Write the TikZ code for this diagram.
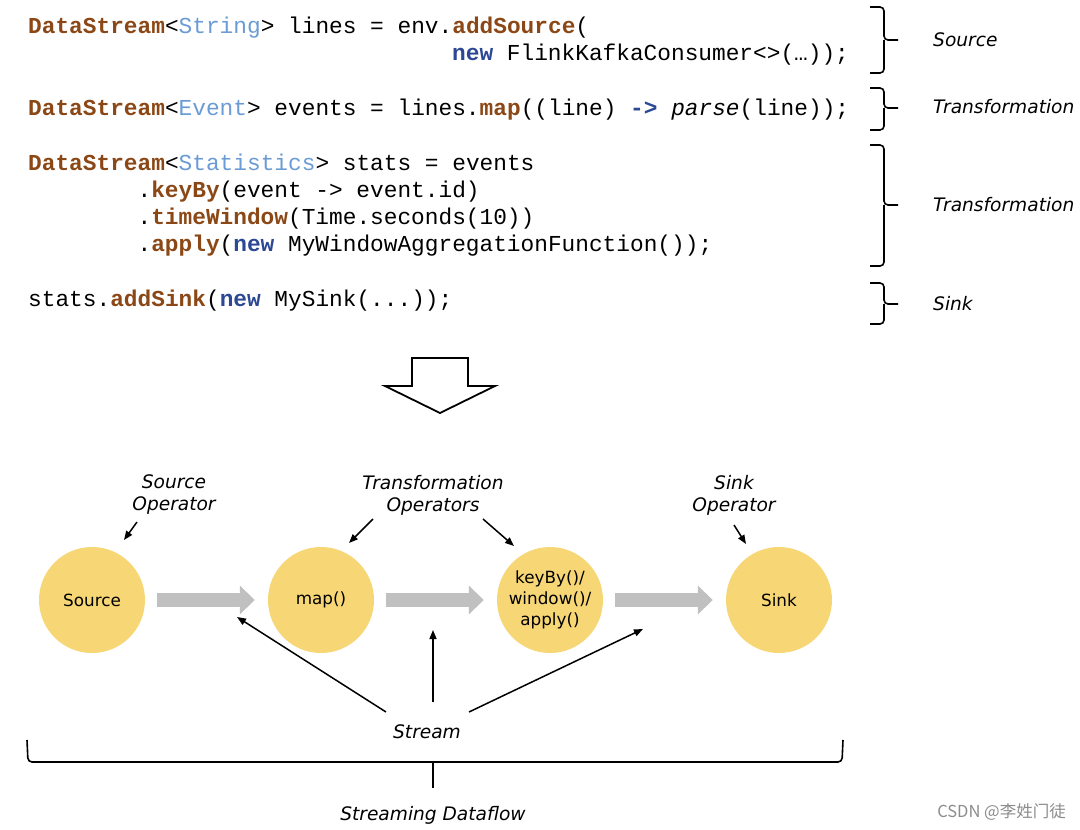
\documentclass[tikz,border=0pt]{standalone}
\usepackage{fontspec}
\setmainfont{DejaVu Sans}
\newfontfamily\codefont{Liberation Mono}
\newfontfamily\cjkfont{Noto Sans CJK SC}
\usetikzlibrary{arrows.meta}
\definecolor{KeyClr}{RGB}{139,72,22}
\definecolor{TypeClr}{RGB}{106,155,212}
\definecolor{NewClr}{RGB}{44,72,148}
\definecolor{OpClr}{RGB}{247,214,118}
\definecolor{FlowClr}{RGB}{192,192,192}
\newcommand{\kw}[1]{{\bfseries\color{KeyClr}#1}}
\newcommand{\ty}[1]{{\color{TypeClr}#1}}
\newcommand{\nw}[1]{{\bfseries\color{NewClr}#1}}

\begin{document}
\begin{tikzpicture}[x=1pt,y=-1pt,
  code/.style={anchor=base west,inner sep=0,font=\codefont\fontsize{22.8}{27}\selectfont},
  note/.style={inner sep=0,align=center,font=\itshape\fontsize{18.6}{22}\selectfont},
  op/.style={circle,fill=OpClr,minimum size=106pt,inner sep=0,align=center,
    font=\fontsize{16.8}{21}\selectfont},
  flow/.style={FlowClr,line width=14pt,shorten <=12pt,shorten >=13pt,
    -{Triangle[length=15pt,width=28pt]}},
  ptr/.style={line width=1.5pt,-{Triangle[length=9pt,width=7pt]}},
  bracket/.style={line width=1.6pt,rounded corners=4pt}]
\useasboundingbox (0,0) rectangle (1080,830);

% program text
\node[code] (c1) at (28,33) {\kw{DataStream}<\ty{String}> lines = env.\kw{addSource}(};
\node[code] (c2) at (452,60) {\nw{new} FlinkKafkaConsumer<>(…));};
\node[code] (c3) at (28,115) {\kw{DataStream}<\ty{Event}> events = lines.\kw{map}((line) \nw{->} \textit{parse}(line));};
\node[code] (c4) at (28,170) {\kw{DataStream}<\ty{Statistics}> stats = events};
\node[code] (c5) at (137.4,197) {.\kw{keyBy}(event -> event.id)};
\node[code] (c6) at (137.4,224) {.\kw{timeWindow}(Time.seconds(10))};
\node[code] (c7) at (137.4,251) {.\kw{apply}(\nw{new} MyWindowAggregationFunction());};
\node[code] (c8) at (28,306) {stats.\kw{addSink}(\nw{new} MySink(...));};

% brackets on the right
\draw[bracket] (870,7) -- (884,7) -- (884,40) -- (898,40);
\draw[bracket] (884,40) -- (884,73) -- (870,73);
\draw[bracket] (870,88) -- (884,88) -- (884,108) -- (898,108);
\draw[bracket] (884,108) -- (884,130) -- (870,130);
\draw[bracket] (870,145) -- (884,145) -- (884,205) -- (898,205);
\draw[bracket] (884,205) -- (884,266) -- (870,266);
\draw[bracket] (870,283) -- (884,283) -- (884,304) -- (898,304);
\draw[bracket] (884,304) -- (884,324) -- (870,324);

\node[note,anchor=west] (lsrc) at (933,40) {Source};
\node[note,anchor=west] (ltr1) at (933,107) {Transformation};
\node[note,anchor=west] (ltr2) at (933,205) {Transformation};
\node[note,anchor=west] (lsnk) at (933,304) {Sink};

% hollow arrow
\draw[line width=1.8pt,line join=miter] (412,358) -- (468,358) -- (468,386) -- (495,386)
  -- (440,413) -- (385,386) -- (412,386) -- cycle;

% operators
\node[op] (src) at (92,600) {Source};
\node[op] (map) at (321,600) {map()};
\node[op] (win) at (550,600) {keyBy()/\\window()/\\apply()};
\node[op] (snk) at (779,600) {Sink};

\draw[flow] (src) -- (map);
\draw[flow] (map) -- (win);
\draw[flow] (win) -- (snk);

\node[note] (srcop) at (174,495) {Source\\Operator};
\node[note] (trop) at (433,495) {Transformation\\Operators};
\node[note] (snkop) at (734,495) {Sink\\Operator};

\coordinate (a1) at (137,522); \coordinate (b1) at (124,540);
\coordinate (a2) at (373,519); \coordinate (b2) at (349,543);
\coordinate (a3) at (483,519); \coordinate (b3) at (514,546);
\coordinate (a4) at (734,525); \coordinate (b4) at (746,544);
\draw[ptr] (a1) -- (b1);
\draw[ptr] (a2) -- (b2);
\draw[ptr] (a3) -- (b3);
\draw[ptr] (a4) -- (b4);

% stream
\node[note] (strm) at (427,732) {Stream};
\coordinate (s1) at (386,712); \coordinate (t1) at (237,617);
\coordinate (s2) at (433,702); \coordinate (t2) at (433,630);
\coordinate (s3) at (469,712); \coordinate (t3) at (643,629);
\draw[ptr] (s1) -- (t1);
\draw[ptr] (s2) -- (t2);
\draw[ptr] (s3) -- (t3);

\draw[bracket] (27,740) -- (28,762) -- (842,762) -- (843,740);
\draw[bracket] (433,762) -- (433,788);
\node[note] (sdf) at (433,815) {Streaming Dataflow};

\node[anchor=east,inner sep=0,text=black!45,font=\cjkfont\fontsize{16.5}{18}\selectfont] (wm) at (1066,812) {CSDN @李姓门徒};
\end{tikzpicture}
\end{document}
